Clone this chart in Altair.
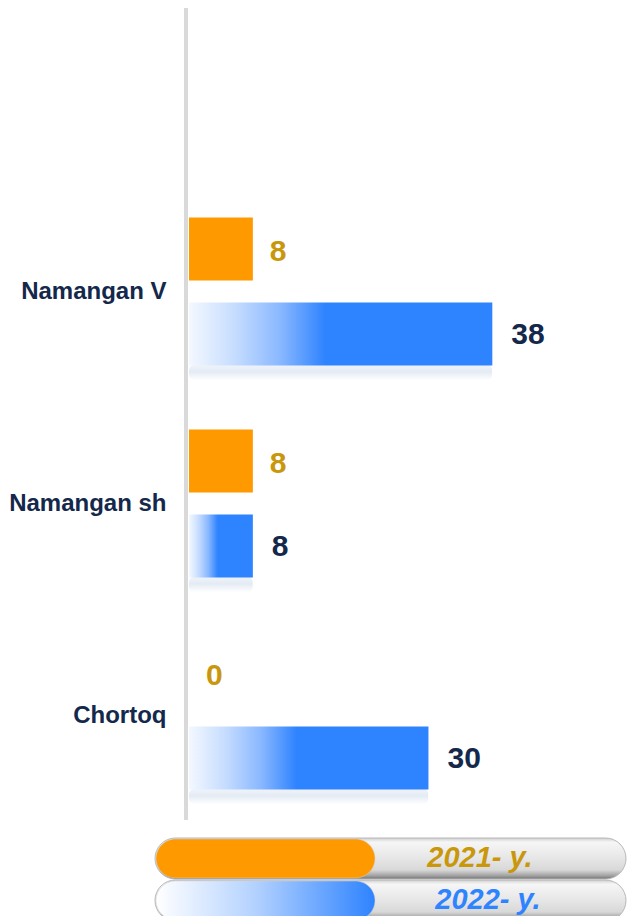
import altair as alt
import pandas as pd

# ---- data -------------------------------------------------------------
categories = ["Namangan  V", "Namangan sh", "Chortoq"]
series = ["2021- y.", "2022- y."]
values_2021 = [8, 8, 0]
values_2022 = [38, 8, 30]

rows = []
for c, v1, v2 in zip(categories, values_2021, values_2022):
    rows.append({"category": c, "series": series[0], "value": v1})
    rows.append({"category": c, "series": series[1], "value": v2})
df = pd.DataFrame(rows)
leg_df = pd.DataFrame({"series": series})

# ---- style ------------------------------------------------------------
NAVY = "#14284b"
ORANGE = "#ff9900"
BLUE = "#2e83ff"
GOLD = "#c9970c"
FONT = "Liberation Sans"

W, H = 439, 908
BAR_H = 63
OFF = 42.5

blue_grad = alt.LinearGradient(
    gradient="linear", x1=0, x2=1, y1=0, y2=0,
    stops=[
        alt.GradientStop(color="#f4f8ff", offset=0),
        alt.GradientStop(color="#c6ddff", offset=0.15),
        alt.GradientStop(color="#8ab8ff", offset=0.3),
        alt.GradientStop(color=BLUE, offset=0.45),
        alt.GradientStop(color=BLUE, offset=1),
    ],
)
legend_blue_grad = alt.LinearGradient(
    gradient="linear", x1=0, x2=1, y1=0, y2=0,
    stops=[
        alt.GradientStop(color="#ffffff", offset=0),
        alt.GradientStop(color="#b4d2ff", offset=0.45),
        alt.GradientStop(color=BLUE, offset=1),
    ],
)
gray_grad = alt.LinearGradient(
    gradient="linear", x1=0, x2=0, y1=0, y2=1,
    stops=[
        alt.GradientStop(color="#cfcfcf", offset=0),
        alt.GradientStop(color="#f6f6f6", offset=0.1),
        alt.GradientStop(color="#e6e6e6", offset=0.5),
        alt.GradientStop(color="#d8d8d8", offset=0.78),
        alt.GradientStop(color="#a2a2a2", offset=0.92),
        alt.GradientStop(color="#727272", offset=1),
    ],
)
shadow_grad = alt.LinearGradient(
    gradient="linear", x1=0, x2=0, y1=0, y2=1,
    stops=[
        alt.GradientStop(color="#eef2f8", offset=0),
        alt.GradientStop(color="#dde6f1", offset=0.45),
        alt.GradientStop(color="#ffffff", offset=1),
    ],
)

y_scale = alt.Scale(domain=categories, range=[177.5, 813.5], paddingInner=0, paddingOuter=0)
x_scale = alt.Scale(domain=[0, 55], zero=True)

base = alt.Chart(df).encode(
    y=alt.Y(
        "category:N", scale=y_scale, sort=categories,
        axis=alt.Axis(
            title=None, domain=False, ticks=False, tickSize=0, labelPadding=23,
            labelFont=FONT, labelFontSize=24, labelFontWeight="bold",
            labelColor=NAVY, labelLimit=300,
        ),
    ),
    x=alt.X("value:Q", scale=x_scale, axis=None),
)

f21 = alt.datum.series == series[0]
f22 = alt.datum.series == series[1]

shadow = base.transform_filter(f22).mark_bar(
    fill=shadow_grad, height=16, yOffset=OFF + BAR_H / 2 + 7, opacity=0.8,
    cornerRadius=6,
)
orange_bars = base.transform_filter(f21).mark_bar(
    color=ORANGE, height=BAR_H, yOffset=-OFF
)
blue_bars = base.transform_filter(f22).mark_bar(
    fill=blue_grad, height=BAR_H, yOffset=OFF
)
orange_text = base.transform_filter(f21).mark_text(
    align="left", baseline="middle", dx=17, yOffset=-OFF + 3,
    font=FONT, fontSize=30, fontWeight="bold", color=GOLD,
).encode(text="value:Q")
blue_text = base.transform_filter(f22).mark_text(
    align="left", baseline="middle", dx=19, yOffset=OFF + 1,
    font=FONT, fontSize=30, fontWeight="bold", color=NAVY,
).encode(text="value:Q")

axis_line = alt.Chart(pd.DataFrame({"a": [0]})).mark_rule(
    color="#d9d9d9", strokeWidth=4
).encode(x=alt.value(-3), y=alt.value(0), y2=alt.value(812))

# ---- legend pills -----------------------------------------------------
legend_layers = []
pill_tops = [830, 872]
fills = [ORANGE, legend_blue_grad]
txt_colors = [GOLD, BLUE]
txt_x = [291, 299]
for s, y0, fill, tc, tx in zip(series, pill_tops, fills, txt_colors, txt_x):
    src = alt.Chart(leg_df).transform_filter(alt.datum.series == s)
    pill = src.mark_rect(
        cornerRadius=20.5, fill=gray_grad, stroke="#b8b8b8", strokeWidth=1
    ).encode(x=alt.value(-34), x2=alt.value(437), y=alt.value(y0), y2=alt.value(y0 + 41))
    color_part = src.mark_rect(
        cornerRadius=20, fill=fill, stroke="#d0d0d0", strokeWidth=0.5
    ).encode(x=alt.value(-33), x2=alt.value(186), y=alt.value(y0 + 1), y2=alt.value(y0 + 40))
    label = src.mark_text(
        align="center", baseline="middle", font=FONT, fontSize=29,
        fontStyle="italic", fontWeight="bold", color=tc,
    ).encode(x=alt.value(tx), y=alt.value(y0 + 20), text="series:N")
    legend_layers += [pill, color_part, label]

chart = alt.layer(
    axis_line, shadow, orange_bars, blue_bars, orange_text, blue_text,
    *legend_layers,
).properties(
    width=W, height=H,
    padding={"left": 181, "top": 0, "right": 0, "bottom": 0},
    autosize=alt.AutoSizeParams(type="none"),
    background="white",
).configure_view(stroke=None)

chart.save("out.html", embed_options={"renderer": "svg", "actions": False})
